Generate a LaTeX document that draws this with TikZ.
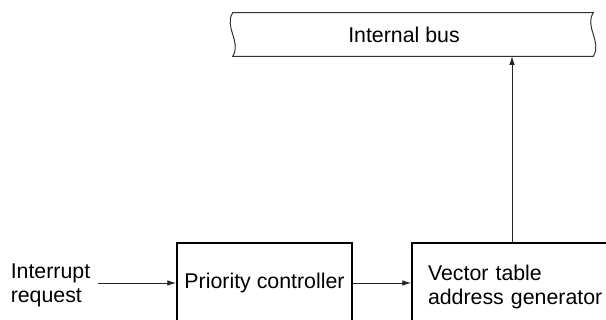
\documentclass[tikz,border=0pt]{standalone}
\usepackage{fontspec}
\setmainfont{Liberation Sans}
\usetikzlibrary{arrows.meta,positioning}

\begin{document}
\begin{tikzpicture}[
  x=0.75pt, y=-0.75pt,
  font=\fontsize{16}{18}\selectfont,
  box/.style={draw, line width=1.5pt, inner sep=0pt, minimum height=60pt},
  busline/.style={draw=black!80, line width=0.75pt},
  arr/.style={-{Latex[length=6.5pt, width=4.2pt]}, line width=0.6pt, draw=black!85}
]
\useasboundingbox (0,0) rectangle (606,320);
\clip (0,0) rectangle (606,320);

% blocks
\node[box, minimum width=131.25pt] (prio) at (264.5,283) {Priority controller};

\node[box, minimum width=165pt, minimum height=65.25pt, inner xsep=12pt,
      text width=141pt, align=left] (vec) at (522,286.5)
      {Vector table\\address generator};

\node[align=left, anchor=west, inner sep=3pt] (irq) at (6.5,285.6)
      {Interrupt\\request};

% internal bus with wavy ends
\node[minimum width=270pt, minimum height=32.25pt, inner sep=0pt] (bus) at (413,34.5) {};
\node[xshift=-6.75pt] (buslabel) at (bus.center) {Internal bus};
\draw[busline] (bus.north west) .. controls +(-9,14) and +(9,-14) .. (bus.south west)
  -- (bus.south east) .. controls +(9,-14) and +(-9,14) .. (bus.north east) -- cycle;

\draw[arr, shorten <=3pt] (irq.east |- prio.west) -- (prio.west);
\draw[arr] (prio.east) -- (prio.east -| vec.west);
\draw[arr] ([xshift=-7.5pt]vec.north) -- ([xshift=-7.5pt]vec.north |- bus.south);

\end{tikzpicture}
\end{document}
